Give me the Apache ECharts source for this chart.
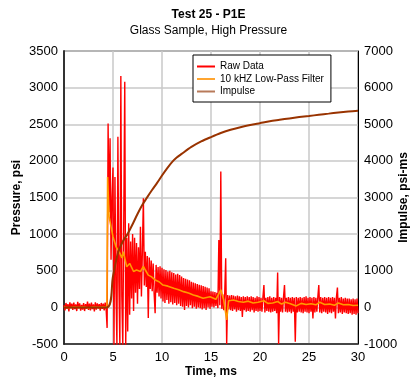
<!DOCTYPE html>
<html>
<head>
<meta charset="utf-8">
<script src="https://cdn.jsdelivr.net/npm/echarts@6/dist/echarts.min.js"></script>
<style>
html,body{margin:0;padding:0;background:#fff;}
#chart{width:417px;height:383px;}
</style>
</head>
<body>
<div id="chart"></div>
<script>
// ---- data ----
var titleText = 'Test 25 - P1E';
var subtitleText = 'Glass Sample, High Pressure';
var xTicks = [0, 5, 10, 15, 20, 25, 30];
var leftTicks = [-500, 0, 500, 1000, 1500, 2000, 2500, 3000, 3500];
var rightTicks = [-1000, 0, 1000, 2000, 3000, 4000, 5000, 6000, 7000];

// raw pressure samples, 0.1 ms apart, starting at 0 ms (one row per ms)
var rawStart = 0;
var rawStep = 0.1;
var rawData = [
  30,-40,60,-20,45,-55,70,-10,50,-35,
  65,-25,40,-50,75,-15,55,-45,35,-30,
  60,-50,45,-20,80,-35,50,-40,65,-25,
  40,-55,70,-30,55,-15,45,-45,60,-20,
  50,-40,65,-30,-280,2510,1300,2310,650,1500,
  1910,-520,1780,250,-520,2330,350,-520,3160,150,
  -520,1250,3080,-520,950,-330,1150,-100,900,120,
  1000,-50,950,200,880,50,820,250,1100,150,
  780,1490,300,760,280,700,-145,680,250,640,
  220,600,180,-80,580,200,550,150,560,120,
  540,80,520,60,510,100,490,50,500,70,
  480,40,470,60,450,30,460,50,440,20,
  420,10,400,-35,390,20,380,0,370,30,
  350,-10,340,10,330,-20,320,0,310,-10,
  300,-30,290,-10,280,-35,270,0,260,-20,
  220,10,215,0,210,20,200,-10,920,30,
  1855,-20,180,-40,190,670,-500,170,-30,160,
  -40,170,-50,160,-30,150,-60,160,-40,150,
  -50,140,-130,150,-40,140,-60,150,-50,140,
  -60,150,-40,140,-70,130,-50,150,-60,140,
  -50,130,-60,140,305,-70,130,-50,140,-60,
  150,-70,130,-60,140,-50,130,-80,475,-500,
  140,-60,130,-70,140,305,-60,130,-70,140,
  -60,130,-80,140,-60,130,-470,140,-70,130,
  -60,140,-70,130,-80,140,-60,150,-70,130,
  -80,140,-60,130,-150,140,-70,130,-60,140,
  305,-70,140,-80,130,-60,140,-70,130,-90,
  140,-70,130,-80,140,-60,130,-150,140,270,
  -80,130,-70,140,-90,120,-70,130,-80,120,
  -90,120,-80,110,-100,120,-90,110,-100,120,
  -80
];

// 10 kHz low-pass filtered pressure
var filtTime = [0,0.5,1,1.5,2,2.5,3,3.5,4,4.38,4.45,4.6,4.8,5.0,5.3,5.7,5.9,6.05,6.4,6.7,7.1,7.4,7.8,8.1,8.3,8.6,8.9,9.3,9.7,10.1,10.6,11.2,11.7,12.2,12.7,13.2,13.7,14.2,14.9,15.5,16.0,16.3,16.6,16.8,17.3,17.8,18.3,18.8,19.3,19.8,20.4,20.8,21.3,21.8,22.2,22.6,23.1,23.7,24.2,24.7,25.2,25.7,26.1,26.6,27.1,27.6,28.0,28.5,29.0,29.5,30];
var filtValue = [5,-5,5,0,5,-5,5,0,5,0,1780,1240,1100,965,830,740,675,760,555,600,490,510,490,560,510,440,420,375,350,305,290,260,240,215,195,170,150,125,145,110,240,100,-170,90,100,80,70,85,60,70,90,55,60,80,45,70,50,20,55,40,50,35,70,40,45,30,60,35,40,25,30];

// impulse (psi-ms)
var impTime = [0,4.35,5.0,5.5,6.0,6.5,7.0,7.5,8.0,8.5,9.0,9.5,10.0,10.5,11.0,11.5,12.0,13.0,14.0,15.0,16.0,17.0,18.0,19.0,20.0,21.0,22.0,23.0,24.0,25.0,26.0,27.0,28.0,29.0,30.0];
var impValue = [0,0,850,1480,1800,2010,2270,2550,2800,3010,3210,3400,3600,3790,3960,4090,4190,4380,4530,4650,4760,4850,4920,4980,5030,5080,5120,5160,5195,5225,5260,5290,5320,5345,5370];

var seriesNames = ['Raw Data', '10 kHZ Low-Pass Filter', 'Impulse'];

// ---- build ----
function pairs(xs, ys) { return xs.map(function (x, i) { return [x, ys[i]]; }); }
var rawPairs = rawData.map(function (v, i) { return [+(rawStart + i * rawStep).toFixed(2), v]; });
function plain(v) { return String(v); }

var FONT = '"Liberation Sans", Arial, sans-serif';
var chart = echarts.init(document.getElementById('chart'), null, {renderer: 'canvas'});
chart.setOption({
  animation: false,
  backgroundColor: '#fff',
  textStyle: {fontFamily: FONT},
  title: {
    text: titleText,
    subtext: subtitleText,
    left: 'center',
    top: 4,
    itemGap: 4,
    textStyle: {fontFamily: FONT, fontSize: 12, fontWeight: 'bold', color: '#000'},
    subtextStyle: {fontFamily: FONT, fontSize: 12, color: '#000'}
  },
  legend: {
    orient: 'vertical',
    left: 193,
    top: 55,
    data: seriesNames.map(function (n) { return {name: n, icon: 'rect'}; }),
    itemWidth: 18,
    itemHeight: 2,
    itemGap: 1.5,
    padding: [6, 7, 5, 4],
    borderColor: '#000',
    borderWidth: 1,
    backgroundColor: '#fff',
    textStyle: {fontFamily: FONT, fontSize: 10, color: '#000', lineHeight: 11}
  },
  grid: {left: 64, right: 59, top: 51, bottom: 39, show: true, borderColor: '#000', borderWidth: 1,
         containLabel: false, outerBoundsMode: 'none'},
  xAxis: {
    type: 'value', min: xTicks[0], max: xTicks[xTicks.length - 1], interval: xTicks[1] - xTicks[0],
    name: 'Time, ms', nameLocation: 'middle', nameGap: 22, nameMoveOverlap: false,
    nameTextStyle: {fontFamily: FONT, fontSize: 12, fontWeight: 'bold', color: '#000'},
    axisLine: {show: true, onZero: false, lineStyle: {color: '#222', width: 1.5}},
    axisTick: {show: false},
    axisLabel: {fontFamily: FONT, fontSize: 13, color: '#000', margin: 7, formatter: plain},
    splitLine: {show: true, lineStyle: {color: '#c8c8c8', width: 1.5}}
  },
  yAxis: [{
    type: 'value', min: leftTicks[0], max: leftTicks[leftTicks.length - 1], interval: leftTicks[1] - leftTicks[0],
    name: 'Pressure, psi', nameLocation: 'middle', nameGap: 41, nameMoveOverlap: false,
    nameTextStyle: {fontFamily: FONT, fontSize: 12, fontWeight: 'bold', color: '#000'},
    axisLine: {show: true, onZero: false, lineStyle: {color: '#333', width: 2}},
    axisTick: {show: false},
    axisLabel: {fontFamily: FONT, fontSize: 13, color: '#000', margin: 6, formatter: plain},
    splitLine: {show: true, lineStyle: {color: '#c8c8c8', width: 1.5}}
  }, {
    type: 'value', position: 'right', min: rightTicks[0], max: rightTicks[rightTicks.length - 1], interval: rightTicks[1] - rightTicks[0],
    name: 'Impulse, psi-ms', nameLocation: 'middle', nameGap: 40, nameMoveOverlap: false,
    nameTextStyle: {fontFamily: FONT, fontSize: 12, fontWeight: 'bold', color: '#000'},
    axisLine: {show: true, onZero: false, lineStyle: {color: '#000', width: 1}},
    axisTick: {show: false},
    axisLabel: {fontFamily: FONT, fontSize: 13, color: '#000', margin: 6, formatter: plain},
    splitLine: {show: false}
  }],
  series: [{
    name: seriesNames[0], type: 'line', data: rawPairs, yAxisIndex: 0,
    symbol: 'none', clip: true,
    lineStyle: {color: '#ff0000', width: 1.4}, itemStyle: {color: '#ff0000'}, z: 2
  }, {
    name: seriesNames[1], type: 'line', data: pairs(filtTime, filtValue), yAxisIndex: 0,
    symbol: 'none', clip: true,
    lineStyle: {color: '#ff9900', width: 1.6}, itemStyle: {color: '#ffa530'}, z: 3
  }, {
    name: seriesNames[2], type: 'line', data: pairs(impTime, impValue), yAxisIndex: 1,
    symbol: 'none', clip: true, smooth: 0.3,
    lineStyle: {color: '#993300', width: 2}, itemStyle: {color: '#b87a5a'}, z: 4
  }]
});
</script>
</body>
</html>
